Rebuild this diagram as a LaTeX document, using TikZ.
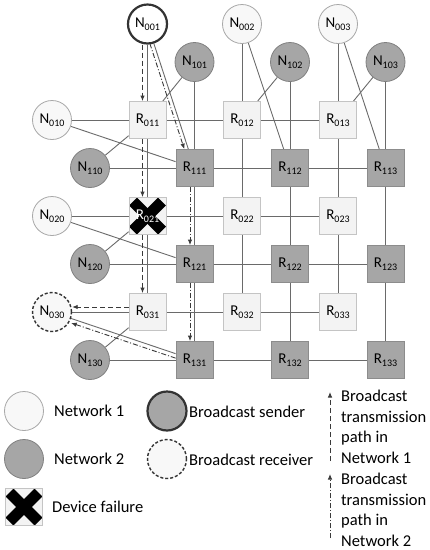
\documentclass[tikz,border=0pt]{standalone}
\usepackage{fontspec}
\setmainfont{Carlito}
\usetikzlibrary{arrows.meta,backgrounds}
\definecolor{nonefill}{HTML}{F8F8F8}
\definecolor{noneline}{HTML}{A8A8A8}
\definecolor{ntwofill}{HTML}{A6A6A6}
\definecolor{ntwoline}{HTML}{808080}
\definecolor{ronefill}{HTML}{F3F3F3}
\definecolor{roneline}{HTML}{C4C4C4}
\definecolor{rtwofill}{HTML}{A6A6A6}
\definecolor{rtwoline}{HTML}{8C8C8C}
\definecolor{linkc}{HTML}{6A6A6A}
\definecolor{pathc}{HTML}{3A3A3A}
\newcommand{\lbl}[2]{#1\raisebox{-2.5pt}{\fontsize{10}{10}\selectfont #2}}
\tikzset{
 basenode/.style={font=\fontsize{15}{15}\selectfont, inner sep=0pt, text=black},
 cone/.style={basenode, circle, minimum size=39pt, draw=noneline, fill=nonefill, line width=0.8pt},
 ctwo/.style={basenode, circle, minimum size=39pt, draw=ntwoline, fill=ntwofill, line width=0.8pt},
 rone/.style={basenode, rectangle, minimum size=37pt, draw=roneline, fill=ronefill, line width=0.8pt},
 rtwo/.style={basenode, rectangle, minimum size=37pt, draw=rtwoline, fill=rtwofill, line width=0.8pt},
 sender/.style={line width=2.2pt, draw=black!80},
 receiver/.style={line width=1.4pt, draw=black!80, dash pattern=on 3pt off 2pt},
 link/.style={draw=linkc, line width=0.9pt},
 pone/.style={draw=pathc, line width=0.9pt, dash pattern=on 5pt off 3pt, -{Latex[length=5.5pt,width=4.5pt]}},
 ptwo/.style={draw=pathc, line width=0.9pt, dash pattern=on 5pt off 2pt on 1pt off 2pt, -{Latex[length=5.5pt,width=4.5pt]}},
 legtxt/.style={font=\fontsize{16.5}{16.5}\selectfont, inner sep=0pt, anchor=west},
 legbase/.style={font=\fontsize{16.5}{16.5}\selectfont, inner sep=0pt, anchor=base west},
 failx/.style={text=white, path picture={
   \draw[line width=11pt, black] ([shift={(4pt,-4pt)}]path picture bounding box.north west) -- ([shift={(-4pt,4pt)}]path picture bounding box.south east);
   \draw[line width=11pt, black] ([shift={(-4pt,-4pt)}]path picture bounding box.north east) -- ([shift={(4pt,4pt)}]path picture bounding box.south west);}}
}
\begin{document}
\begin{tikzpicture}[x=1pt, y=-1pt]
\useasboundingbox (0,0) rectangle (430,550);
% network 1 end nodes
\node[cone, sender, fill=white] (n001) at (147.5,24) {\lbl{N}{001}};
\node[cone] (n002) at (242,24) {\lbl{N}{002}};
\node[cone] (n003) at (338,24) {\lbl{N}{003}};
\node[cone] (n010) at (52,120) {\lbl{N}{010}};
\node[cone] (n020) at (52,216) {\lbl{N}{020}};
\node[cone, receiver] (n030) at (52,312) {\lbl{N}{030}};
% network 2 end nodes
\node[ctwo] (n101) at (194.5,62) {\lbl{N}{101}};
\node[ctwo] (n102) at (290,62) {\lbl{N}{102}};
\node[ctwo] (n103) at (385.5,62) {\lbl{N}{103}};
\node[ctwo] (n110) at (90,168) {\lbl{N}{110}};
\node[ctwo] (n120) at (90,264) {\lbl{N}{120}};
\node[ctwo] (n130) at (90,360) {\lbl{N}{130}};
% network 1 routers
\node[rone] (r011) at (147.5,120) {\lbl{R}{011}};
\node[rone] (r012) at (242,120) {\lbl{R}{012}};
\node[rone] (r013) at (338,120) {\lbl{R}{013}};
\node[rone, failx] (r021) at (147.5,216) {\lbl{R}{021}};
\node[rone] (r022) at (242,216) {\lbl{R}{022}};
\node[rone] (r023) at (338,216) {\lbl{R}{023}};
\node[rone] (r031) at (147.5,312) {\lbl{R}{031}};
\node[rone] (r032) at (242,312) {\lbl{R}{032}};
\node[rone] (r033) at (338,312) {\lbl{R}{033}};
% network 2 routers
\node[rtwo] (r111) at (194.5,168) {\lbl{R}{111}};
\node[rtwo] (r112) at (290,168) {\lbl{R}{112}};
\node[rtwo] (r113) at (385.5,168) {\lbl{R}{113}};
\node[rtwo] (r121) at (194.5,264) {\lbl{R}{121}};
\node[rtwo] (r122) at (290,264) {\lbl{R}{122}};
\node[rtwo] (r123) at (385.5,264) {\lbl{R}{123}};
\node[rtwo] (r131) at (194.5,360) {\lbl{R}{131}};
\node[rtwo] (r132) at (290,360) {\lbl{R}{132}};
\node[rtwo] (r133) at (385.5,360) {\lbl{R}{133}};
% links
\begin{scope}[on background layer]
\fill[white] (0,0) rectangle (430,550);
\foreach \r in {1,2,3} {
  \draw[link] (n0\r0) -- (r0\r1) -- (r0\r2) -- (r0\r3);
  \draw[link] (n1\r0) -- (r1\r1) -- (r1\r2) -- (r1\r3);
  \draw[link] (n00\r) -- (r01\r) -- (r02\r) -- (r03\r);
  \draw[link] (n10\r) -- (r11\r) -- (r12\r) -- (r13\r);
  \draw[link] (n00\r) -- (r11\r);
  \draw[link] (n10\r) -- (r01\r);
  \draw[link] (n0\r0) -- (r1\r1);
  \draw[link] (n1\r0) -- (r0\r1);
}
\end{scope}
% broadcast paths network 1
\draw[pone] ([xshift=-5pt]n001.south) -- ([xshift=-5pt]r011.north);
\draw[pone] ([xshift=-5pt]r011.south) -- ([xshift=-5pt]r021.north);
\draw[pone] ([xshift=-5pt]r021.south) -- ([xshift=-5pt]r031.north);
\draw[pone] ([yshift=5pt]r031.west) -- ([yshift=5pt]n030.east);
% broadcast paths network 2
\draw[ptwo, transform canvas={xshift=-4pt}] (n001) -- (r111);
\draw[ptwo] ([xshift=-4.5pt]r111.south) -- ([xshift=-4.5pt]r121.north);
\draw[ptwo] ([xshift=-4.5pt]r121.south) -- ([xshift=-4.5pt]r131.north);
\draw[ptwo, transform canvas={yshift=-4.5pt}] (r131) -- (n030);
% legend
\node[cone] (lg1) at (24,411) {};
\node[legtxt] (lt1) at (54,411) {Network 1};
\node[ctwo] (lg2) at (24,459) {};
\node[legtxt] (lt2) at (54,459) {Network 2};
\node[rone, failx] (lg3) at (24,507) {};
\node[legtxt] (lt3) at (52,507) {Device failure};
\node[ctwo, sender] (lg4) at (167,411) {};
\node[legtxt] (lt4) at (189,412) {Broadcast sender};
\node[cone, receiver] (lg5) at (167,459) {};
\node[legtxt] (lt5) at (189,460) {Broadcast receiver};
\coordinate (a1s) at (330,461);
\coordinate (a1e) at (330,392);
\draw[pone] (a1s) -- (a1e);
\coordinate (a2s) at (330,538);
\coordinate (a2e) at (330,474);
\draw[ptwo] (a2s) -- (a2e);
\node[legbase] (b1) at (341,401.5) {Broadcast};
\node[legbase] (b2) at (341,422) {transmission};
\node[legbase] (b3) at (341,442.5) {path in};
\node[legbase] (b4) at (341,463) {Network 1};
\node[legbase] (c1) at (341,484.5) {Broadcast};
\node[legbase] (c2) at (341,505) {transmission};
\node[legbase] (c3) at (341,525.5) {path in};
\node[legbase] (c4) at (341,546) {Network 2};
\end{tikzpicture}
\end{document}
